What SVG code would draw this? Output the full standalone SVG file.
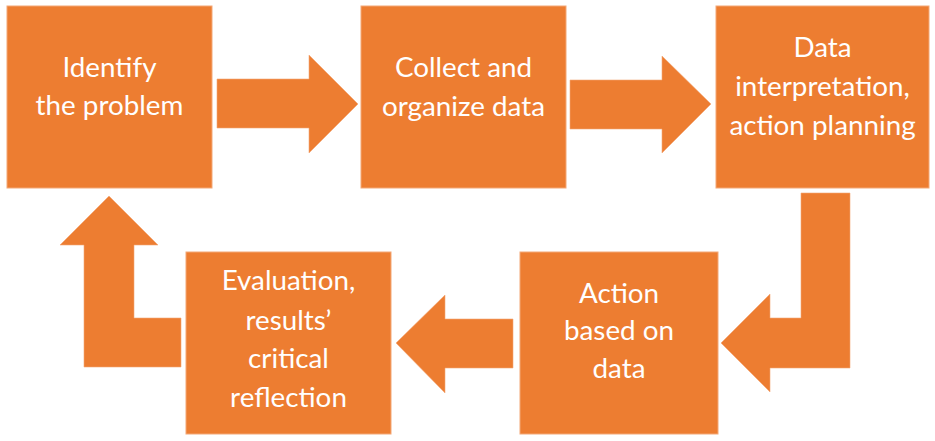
<svg xmlns="http://www.w3.org/2000/svg" width="935" height="441" viewBox="0 0 935 441">
<style>
.box{fill:#ED7D31;stroke:#F3A877;stroke-width:1}
.arr{fill:#ED7D31;stroke:#F3A877;stroke-width:0.6}
.t{font-family:Lato,"Open Sans","Liberation Sans",sans-serif;font-size:27.8px;fill:#FFFFFF;text-anchor:middle}
</style>
<rect width="935" height="441" fill="#FFFFFF"/>
<g id="connectors">
<polygon class="arr" points="217,79 309,79 309,55 358,104 309,153 309,128 217,128"/>
<polygon class="arr" points="570,80 662,80 662,56 711,104 662,153 662,129 570,129"/>
<polygon class="arr" points="801,193 850,193 850,368 770,368 770,392 721,343 770,294 770,318 801,318"/>
<polygon class="arr" points="513,319 513,368 445,368 445,393 396,343 445,295 445,319"/>
<polygon class="arr" points="181,318 181,367 84,367 84,245 60,245 109,196 158,245 134,245 134,318"/>
</g>
<g id="node-identify">
<rect class="box" x="7" y="6" width="205" height="182"/>
<text class="t" x="109.5" y="77">Identify</text>
<text class="t" x="109.5" y="115">the problem</text>
</g>
<g id="node-collect">
<rect class="box" x="361" y="6" width="205" height="182"/>
<text class="t" x="463.5" y="77">Collect and</text>
<text class="t" x="463.5" y="116">organize data</text>
</g>
<g id="node-interpret">
<rect class="box" x="716" y="6" width="213" height="182"/>
<text class="t" x="822.5" y="57">Data</text>
<text class="t" x="822.5" y="96">interpretation,</text>
<text class="t" x="822.5" y="135">action planning</text>
</g>
<g id="node-action">
<rect class="box" x="520" y="252" width="198" height="182"/>
<text class="t" x="619" y="303">Action</text>
<text class="t" x="619" y="340">based on</text>
<text class="t" x="619" y="378">data</text>
</g>
<g id="node-evaluation">
<rect class="box" x="186" y="252" width="205" height="182"/>
<text class="t" x="288.5" y="290">Evaluation,</text>
<text class="t" x="288.5" y="330">results’</text>
<text class="t" x="288.5" y="368">critical</text>
<text class="t" x="288.5" y="407">reflection</text>
</g>
</svg>
